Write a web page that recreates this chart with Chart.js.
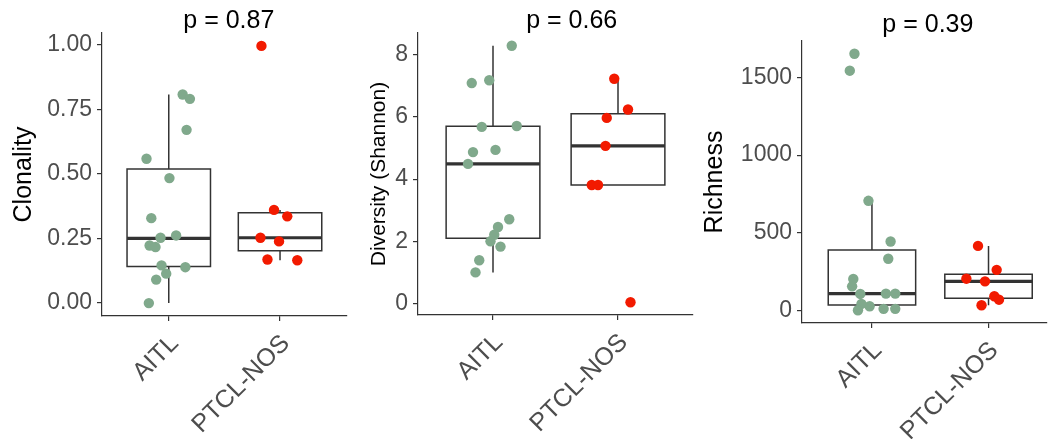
<!DOCTYPE html>
<html>
<head>
<meta charset="utf-8">
<title>Clonality, diversity and richness</title>
<script src="https://cdn.jsdelivr.net/npm/chart.js"></script>
<style>
  body { margin:0; background:#fff; width:1052px; height:439px; overflow:hidden; position:relative; }
  .panel { position:absolute; top:0; height:439px; }
</style>
</head>
<body>
<div class="panel" style="left:0px;width:352px"><canvas id="c1" width="352" height="439"></canvas></div>
<div class="panel" style="left:352px;width:350px"><canvas id="c2" width="350" height="439"></canvas></div>
<div class="panel" style="left:702px;width:350px"><canvas id="c3" width="350" height="439"></canvas></div>
<script>
const groups = ['AITL', 'PTCL-NOS'];

// Clonality
const clonAITL = [0.559, 0.808, 0.791, 0.671, 0.484, 0.329, 0.253, 0.262, 0.223, 0.217, 0.146, 0.114, 0.139, 0.091, 0.0];
const clonAITLJitter = [-0.20, 0.125, 0.19, 0.16, 0.006, -0.157, -0.074, 0.066, -0.172, -0.119, -0.065, -0.023, 0.149, -0.113, -0.179];
const clonPTCL = [0.996, 0.361, 0.336, 0.253, 0.239, 0.169, 0.166];
const clonPTCLJitter = [-0.167, -0.054, 0.065, -0.176, -0.009, -0.113, 0.155];
// lower whisker, q1, median, q3, upper whisker
const clonBox = [[0.0, 0.142, 0.251, 0.519, 0.808], [0.166, 0.203, 0.253, 0.35, 0.361]];
const clonTicks = [0, 0.25, 0.5, 0.75, 1];
const clonTickLabels = ['0.00', '0.25', '0.50', '0.75', '1.00'];

// Diversity (Shannon)
const divAITL = [8.29, 7.09, 7.18, 5.68, 5.71, 4.87, 4.94, 4.49, 2.71, 2.46, 2.21, 2.0, 1.83, 1.39, 1.0];
const divAITLJitter = [0.15, -0.17, -0.03, -0.09, 0.19, -0.16, 0.02, -0.2, 0.13, 0.04, 0.01, -0.02, 0.06, -0.11, -0.14];
const divPTCL = [7.23, 6.24, 5.97, 5.07, 3.81, 3.81, 0.04];
const divPTCLJitter = [-0.03, 0.08, -0.09, -0.1, -0.21, -0.16, 0.1];
const divBox = [[1.0, 2.1, 4.49, 5.7, 8.29], [3.81, 3.81, 5.07, 6.1, 7.23]];
const divTicks = [0, 2, 4, 6, 8];
const divTickLabels = ['0', '2', '4', '6', '8'];

// Richness
const richAITL = [1652, 1543, 706, 444, 333, 203, 156, 107, 109, 109, 43, 28, 2, 11, 11];
const richAITLJitter = [-0.15, -0.19, -0.03, 0.16, 0.14, -0.16, -0.17, -0.1, 0.12, 0.2, -0.09, -0.02, -0.12, 0.1, 0.2];
const richPTCL = [416, 262, 205, 188, 92, 70, 34];
const richPTCLJitter = [-0.09, 0.07, -0.19, -0.03, 0.05, 0.09, -0.06];
const richBox = [[2, 35, 109, 389, 706], [34, 80, 188, 234, 416]];
const richTicks = [0, 500, 1000, 1500];
const richTickLabels = ['0', '500', '1000', '1500'];

const pValues = ['p = 0.87', 'p = 0.66', 'p = 0.39'];

const FONT = '"Liberation Sans", Arial, Helvetica, sans-serif';
const GREEN = '#80a98c';
const RED = '#f21a00';
const BOXLINE = '#333333';

const pValueLabel = {
  id: 'pValueLabel',
  afterDraw(chart, args, opts) {
    const ctx = chart.ctx;
    const x = chart.scales.x.getPixelForValue(opts.x);
    ctx.save();
    ctx.font = '25px ' + FONT;
    ctx.fillStyle = '#000';
    ctx.textAlign = 'center';
    ctx.textBaseline = 'alphabetic';
    ctx.fillText(opts.text, x, opts.y);
    ctx.restore();
  }
};

function points(values, jitter, group, color) {
  return {
    data: values.map((v, i) => ({ x: group + jitter[i], y: v })),
    backgroundColor: color,
    borderWidth: 0,
    pointRadius: 5.2,
    order: 0
  };
}

function seg(data, width, cap) {
  return {
    data: data,
    showLine: true,
    borderColor: BOXLINE,
    borderWidth: width,
    borderCapStyle: cap || 'butt',
    borderJoinStyle: 'miter',
    pointRadius: 0,
    fill: false,
    tension: 0,
    order: 1
  };
}

function boxes(stats) {
  const out = [];
  stats.forEach((s, i) => {
    const c = i + 1, h = 0.375;
    const [lo, q1, med, q3, hi] = s;
    out.push(seg([{x: c - h, y: q1}, {x: c + h, y: q1}, {x: c + h, y: q3}, {x: c - h, y: q3}, {x: c - h, y: q1}], 1.5, 'square'));
    out.push(seg([{x: c - h, y: med}, {x: c + h, y: med}], 3.2));
    out.push(seg([{x: c, y: q3}, {x: c, y: hi}], 1.5));
    out.push(seg([{x: c, y: lo}, {x: c, y: q1}], 1.5));
  });
  return out;
}

function panel(id, o) {
  new Chart(document.getElementById(id), {
    type: 'scatter',
    data: {
      datasets: [
        points(o.aitl, o.aitlJitter, 1, GREEN),
        points(o.ptcl, o.ptclJitter, 2, RED)
      ].concat(boxes(o.box))
    },
    options: {
      responsive: false,
      animation: false,
      layout: { padding: o.padding },
      plugins: {
        legend: { display: false },
        tooltip: { enabled: false },
        pValueLabel: { text: o.pText, x: o.pX, y: o.pY }
      },
      scales: {
        x: {
          type: 'linear',
          min: 0.4,
          max: o.xMax,
          afterBuildTicks: (ax) => { ax.ticks = groups.map((g, i) => ({ value: i + 1 })); },
          afterFit: (ax) => { ax.height = o.xHeight; },
          ticks: {
            callback: (v) => groups[Math.round(v) - 1],
            minRotation: 45,
            maxRotation: 45,
            padding: 8,
            labelOffset: 6,
            color: '#4d4d4d',
            font: { family: FONT, size: 25 }
          },
          grid: { display: true, drawOnChartArea: false, drawTicks: true, tickLength: 5, color: BOXLINE, lineWidth: 1.2 },
          border: { display: true, color: BOXLINE, width: 1.2 }
        },
        y: {
          type: 'linear',
          min: o.yMin,
          max: o.yMax,
          afterBuildTicks: (ax) => { ax.ticks = o.ticks.map(v => ({ value: v })); },
          afterFit: (ax) => { ax.width = o.yWidth; },
          ticks: {
            callback: (v) => o.tickLabels[o.ticks.indexOf(v)],
            padding: 5,
            color: '#4d4d4d',
            font: { family: FONT, size: 23 }
          },
          grid: { display: true, drawOnChartArea: false, drawTicks: true, tickLength: 5, color: BOXLINE, lineWidth: 1.2 },
          border: { display: true, color: BOXLINE, width: 1.2 },
          title: {
            display: true,
            text: o.yTitle,
            color: '#000',
            font: { family: FONT, size: o.yTitleSize, lineHeight: 1 },
            padding: { top: o.yTitlePad, bottom: 0 }
          }
        }
      }
    },
    plugins: [pValueLabel]
  });
}

panel('c1', {
  aitl: clonAITL, aitlJitter: clonAITLJitter, ptcl: clonPTCL, ptclJitter: clonPTCLJitter, box: clonBox,
  ticks: clonTicks, tickLabels: clonTickLabels, yMin: -0.05, yMax: 1.046,
  yTitle: 'Clonality', yTitleSize: 25, yTitlePad: 12,
  pText: pValues[0], pX: 1.54, pY: 28,
  padding: { left: 0, top: 33, right: 3, bottom: 0 }, yWidth: 102, xHeight: 123, xMax: 2.6
});
panel('c2', {
  aitl: divAITL, aitlJitter: divAITLJitter, ptcl: divPTCL, ptclJitter: divPTCLJitter, box: divBox,
  ticks: divTicks, tickLabels: divTickLabels, yMin: -0.37, yMax: 8.70,
  yTitle: 'Diversity (Shannon)', yTitleSize: 21, yTitlePad: 17,
  pText: pValues[1], pX: 1.63, pY: 28,
  padding: { left: 0, top: 33, right: 9, bottom: 0 }, yWidth: 66, xHeight: 124, xMax: 2.6
});
panel('c3', {
  aitl: richAITL, aitlJitter: richAITLJitter, ptcl: richPTCL, ptclJitter: richPTCLJitter, box: richBox,
  ticks: richTicks, tickLabels: richTickLabels, yMin: -80, yMax: 1734,
  yTitle: 'Richness', yTitleSize: 25, yTitlePad: 1,
  pText: pValues[2], pX: 1.48, pY: 32,
  padding: { left: 0, top: 41, right: 0, bottom: 0 }, yWidth: 100, xHeight: 116, xMax: 2.5
});
</script>
</body>
</html>
